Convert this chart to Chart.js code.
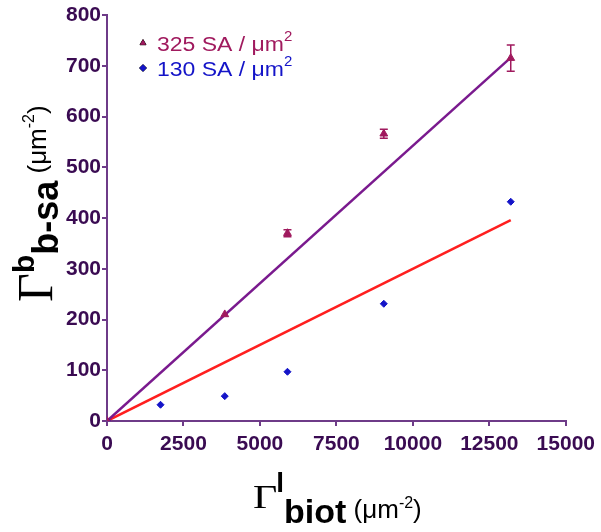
<!DOCTYPE html>
<html>
<head>
<meta charset="utf-8">
<script src="https://cdn.jsdelivr.net/npm/chart.js@4"></script>
<style>
	html, body { margin: 0; padding: 0; background: #fff; }
	#wrap { width: 601px; height: 532px; }
</style>
</head>
<body>
<div id="wrap"><canvas id="chart" width="601" height="532"></canvas></div>
<script>
// values
var biot = [0, 1750, 3850, 5900, 9050, 13200];
var sa325X = [0, 3850, 5900, 9050, 13200];
var sa325Y = [0, 210, 370, 566, 715];
var sa325Err = [0, 0, 7, 9, 26];
var sa130Y = [0, 32, 49, 97, 231, 432];
var fitX = [0, 13200];
var fit325Y = [0, 716];
var fit130Y = [0, 396];

var xTicks = [0, 2500, 5000, 7500, 10000, 12500, 15000];
var yTicks = [0, 100, 200, 300, 400, 500, 600, 700, 800];

var axisColor = '#6e3b88';
var tickColor = '#3a0b52';
var col325 = '#a01a5e';
var col130 = '#1414c8';
var fit325Color = '#7a1a8e';
var fit130Color = '#ff1f1f';

function points(xs, ys) {
	return xs.map(function (x, i) { return {x: x, y: ys[i]}; });
}

var sans = '"Liberation Sans", Arial, sans-serif';
var serif = '"Liberation Serif", "Times New Roman", serif';

// draws a row of text runs, each with its own font, baseline shift and vertical squash
function drawRuns(ctx, runs, x, y) {
	runs.forEach(function (r) {
		ctx.font = r.font;
		x += r.dx || 0;
		ctx.save();
		ctx.translate(x, y + (r.dy || 0));
		ctx.scale(1, r.sy || 1);
		ctx.fillText(r.text, 0, 0);
		ctx.restore();
		x += ctx.measureText(r.text).width;
	});
}

var errorBars = {
	id: 'errorBars',
	afterDatasetsDraw: function (chart) {
		var ctx = chart.ctx;
		var xs = chart.scales.x, ys = chart.scales.y;
		ctx.save();
		ctx.strokeStyle = col325;
		ctx.lineWidth = 1.5;
		sa325X.forEach(function (x, i) {
			var e = sa325Err[i];
			if (!e) return;
			var px = xs.getPixelForValue(x);
			var top = ys.getPixelForValue(sa325Y[i] + e);
			var bot = ys.getPixelForValue(sa325Y[i] - e);
			ctx.beginPath();
			ctx.moveTo(px, top); ctx.lineTo(px, bot);
			ctx.moveTo(px - 4, top); ctx.lineTo(px + 4, top);
			ctx.moveTo(px - 4, bot); ctx.lineTo(px + 4, bot);
			ctx.stroke();
		});
		ctx.restore();
	}
};

var titles = {
	id: 'titles',
	afterDraw: function (chart) {
		var ctx = chart.ctx;
		ctx.save();
		ctx.fillStyle = '#000';
		ctx.textBaseline = 'alphabetic';
		ctx.textAlign = 'left';

		// x title
		drawRuns(ctx, [
			{text: 'Γ', font: '42px ' + serif, dy: -15, sy: 0.78},
			{text: 'l', font: 'bold 28px ' + sans, dx: -1, dy: -31},
			{text: 'biot', font: 'bold 34px ' + sans},
			{text: ' (μm', font: '26px ' + sans, dy: -5},
			{text: '-2', font: '16px ' + sans, dy: -15},
			{text: ')', font: '26px ' + sans, dy: -5}
		], 253, 523);

		// y title
		ctx.translate(52, 302);
		ctx.rotate(-Math.PI / 2);
		drawRuns(ctx, [
			{text: 'Γ', font: '50px ' + serif},
			{text: 'b', font: 'bold 30px ' + sans, dy: -18},
			{text: 'b-sa', font: 'bold 36px ' + sans, dy: 6},
			{text: ' (μm', font: '26px ' + sans, dy: -6},
			{text: '-2', font: '16px ' + sans, dy: -18},
			{text: ')', font: '26px ' + sans, dy: -6}
		], 0, 0);
		ctx.restore();

		// legend
		ctx.save();
		ctx.textBaseline = 'alphabetic';
		var rows = [
			{label: '325 SA / μm', color: col325, shape: 'triangle', y: 51},
			{label: '130 SA / μm', color: col130, shape: 'rectRot', y: 76}
		];
		rows.forEach(function (r) {
			ctx.fillStyle = r.color;
			Chart.helpers.drawPoint(ctx, {pointStyle: r.shape, radius: 3.5, borderWidth: 1}, 143, r.y - 8);
			ctx.fill();
			drawRuns(ctx, [
				{text: r.label, font: '23px ' + sans, sy: 0.9},
				{text: '2', font: '15px ' + sans, dy: -10}
			], 157, r.y);
		});
		ctx.restore();
	}
};

new Chart(document.getElementById('chart'), {
	type: 'scatter',
	data: {
		datasets: [
			{
				label: '325 SA / μm²',
				data: points(sa325X, sa325Y),
				pointStyle: 'triangle',
				pointRadius: 4.5,
				backgroundColor: col325,
				borderColor: col325,
				borderWidth: 1,
				order: 0
			},
			{
				label: '130 SA / μm²',
				data: points(biot, sa130Y),
				pointStyle: 'rectRot',
				pointRadius: 3.5,
				backgroundColor: col130,
				borderColor: col130,
				borderWidth: 1,
				order: 0
			},
			{
				label: 'fit 325',
				data: points(fitX, fit325Y),
				showLine: true,
				pointRadius: 0,
				borderColor: fit325Color,
				borderWidth: 2.5,
				order: 1
			},
			{
				label: 'fit 130',
				data: points(fitX, fit130Y),
				showLine: true,
				pointRadius: 0,
				borderColor: fit130Color,
				borderWidth: 2.5,
				order: 1
			}
		]
	},
	options: {
		responsive: false,
		animation: false,
		layout: { padding: { top: 15, right: 35, left: 0, bottom: 0 } },
		plugins: {
			legend: { display: false },
			tooltip: { enabled: false }
		},
		scales: {
			x: {
				type: 'linear',
				min: 0,
				max: 15000,
				afterFit: function (s) { s.height = 111; },
				afterBuildTicks: function (s) { s.ticks = xTicks.map(function (v) { return {value: v}; }); },
				grid: { drawOnChartArea: false, drawTicks: true, tickLength: 5, color: axisColor, lineWidth: 2 },
				border: { color: axisColor, width: 2 },
				ticks: {
					padding: 6,
					maxRotation: 0,
					color: tickColor,
					font: { family: sans, size: 21, weight: 'bold' },
					callback: function (v) { return String(v); }
				}
			},
			y: {
				min: 0,
				max: 800,
				afterFit: function (s) { s.width = 107; },
				afterBuildTicks: function (s) { s.ticks = yTicks.map(function (v) { return {value: v}; }); },
				grid: { drawOnChartArea: false, drawTicks: true, tickLength: 5, color: axisColor, lineWidth: 2 },
				border: { color: axisColor, width: 2 },
				ticks: {
					padding: 1,
					color: tickColor,
					font: { family: sans, size: 21, weight: 'bold' },
					callback: function (v) { return String(v); }
				}
			}
		}
	},
	plugins: [errorBars, titles]
});
</script>
</body>
</html>
